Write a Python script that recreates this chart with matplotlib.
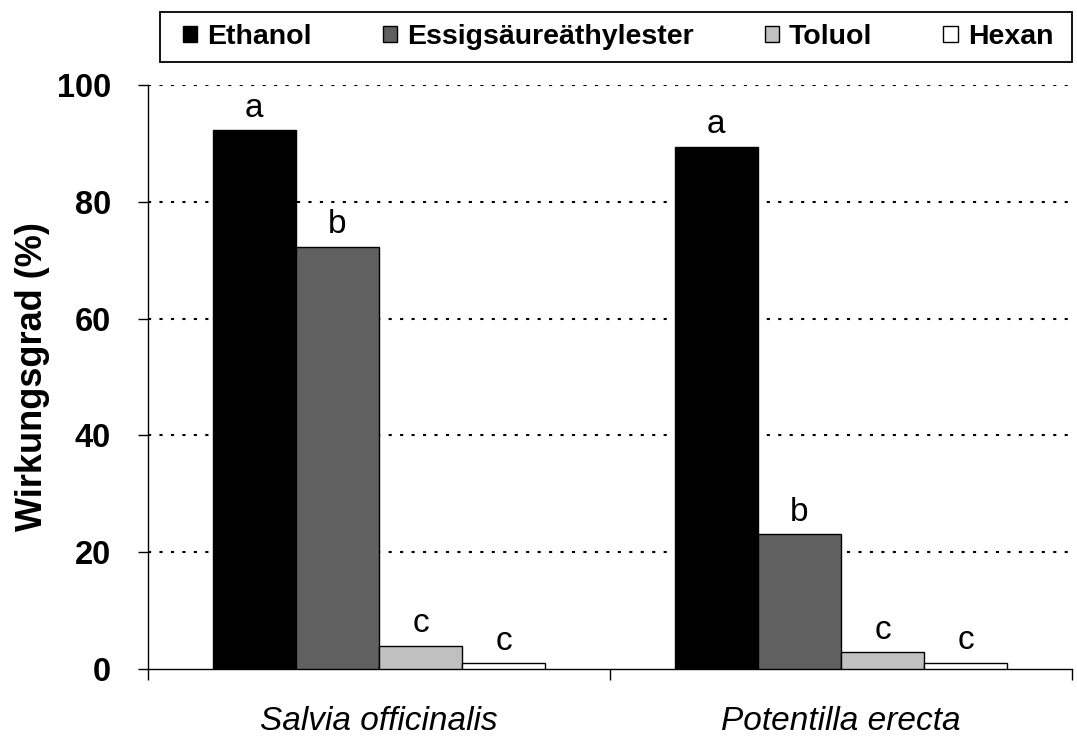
import numpy as np
import matplotlib.pyplot as plt
from matplotlib.ticker import FixedLocator
from matplotlib.patches import Rectangle

plt.rcParams['font.family'] = ['Liberation Sans', 'DejaVu Sans']

# Data
species = ['Salvia officinalis', 'Potentilla erecta']
solvents = ['Ethanol', 'Essigsäureäthylester', 'Toluol', 'Hexan']
values = {
    'Ethanol': [92.3, 89.4],
    'Essigsäureäthylester': [72.3, 23.1],
    'Toluol': [4.0, 2.9],
    'Hexan': [1.0, 1.1],
}
letters = {
    'Ethanol': ['a', 'a'],
    'Essigsäureäthylester': ['b', 'b'],
    'Toluol': ['c', 'c'],
    'Hexan': ['c', 'c'],
}
colors = ['#000000', '#606060', '#c0c0c0', '#ffffff']

W, H = 1077, 740
fig = plt.figure(figsize=(W / 100, H / 100), dpi=100)
ax = fig.add_axes([148 / W, 1 - 669 / H, (1072 - 148) / W, (669 - 85) / H])

x = np.arange(len(species))
width = 0.18
offsets = (np.arange(len(solvents)) - 1.5) * width

for i, solv in enumerate(solvents):
    ax.bar(x + offsets[i], values[solv], width, color=colors[i],
           edgecolor='black', linewidth=1.0, label=solv, zorder=3)
    for xi, v, lab in zip(x + offsets[i], values[solv], letters[solv]):
        ax.text(xi, v + 2.3, lab, ha='center', va='baseline', fontsize=24)

ax.set_xlim(-0.5, 1.5)
ax.set_ylim(0, 100)

# dotted horizontal grid
for g in [20, 40, 60, 80, 100]:
    ax.axhline(g, color='black', linestyle=(0, (1.5, 4)), linewidth=1.5, zorder=1)

ax.spines['top'].set_visible(False)
ax.spines['right'].set_visible(False)
ax.spines['left'].set_linewidth(1.0)
ax.spines['bottom'].set_linewidth(1.0)

ax.set_yticks([0, 20, 40, 60, 80, 100])
ax.set_yticklabels(['0', '20', '40', '60', '80', '100'], fontsize=23.5, fontweight='bold')
ax.tick_params(axis='y', direction='out', length=7.5, width=1.0, pad=19)

# category labels between boundary ticks
ax.xaxis.set_major_locator(FixedLocator([-0.5, 0.5, 1.5]))
ax.set_xticklabels([])
ax.xaxis.set_minor_locator(FixedLocator(x))
ax.set_xticklabels(species, minor=True, fontsize=24, style='italic')
ax.tick_params(axis='x', which='major', direction='out', length=8, width=1.0)
ax.tick_params(axis='x', which='minor', length=0, pad=27)

ax.set_ylabel('Wirkungsgrad (%)', fontsize=26, fontweight='bold', labelpad=5)

# legend box across the top
fig.patches.append(Rectangle((160 / W, 1 - 62 / H), 912 / W, 50 / H,
                             transform=fig.transFigure, facecolor='white',
                             edgecolor='black', linewidth=1.3))
handles, labels = ax.get_legend_handles_labels()
leg = fig.legend(handles, labels, ncol=4, loc='center',
                 bbox_to_anchor=(618 / W, 1 - 37 / H), frameon=False,
                 prop={'weight': 'bold', 'size': 20.5}, handlelength=0.5,
                 handleheight=0.5, handletextpad=0.35, columnspacing=2.5,
                 borderpad=0.0, borderaxespad=0.0)

fig.savefig('out.png', dpi=100)
